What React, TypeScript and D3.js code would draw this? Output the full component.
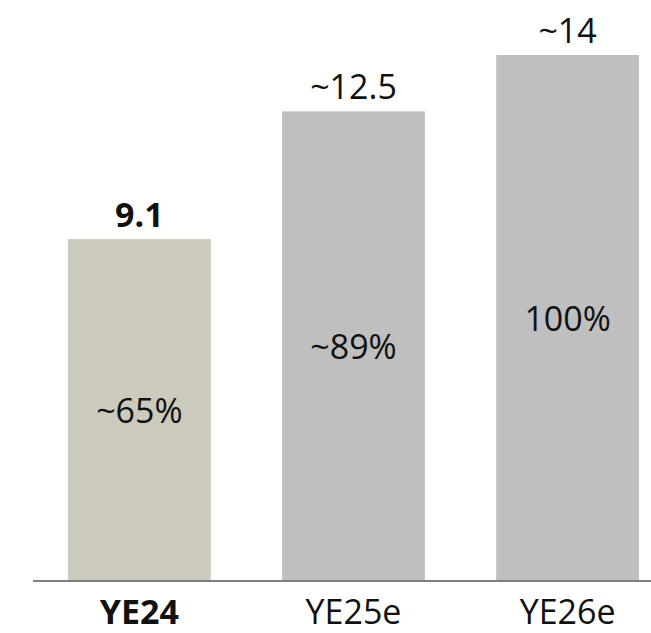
import React from "react";
import * as d3 from "d3";

const categories = ["YE24", "YE25e", "YE26e"];
const values = [9.1, 12.5, 14];
const valueLabels = ["9.1", "~12.5", "~14"];
const shareLabels = ["~65%", "~89%", "100%"];
const barColors = ["#cccabd", "#bfbfbf", "#bfbfbf"];
const boldIndex = 0;

const W = 651;
const H = 633;
const baseY = 581;

export default function App() {
  const x = d3.scaleBand<string>().domain(categories).range([68, 639]).paddingInner(0.333).paddingOuter(0);
  const y = d3.scaleLinear().domain([0, 14]).range([baseY, 55]);
  const font = "'Open Sans', 'Noto Sans', sans-serif";
  return (
    <svg
      width={W}
      height={H}
      style={{ position: "absolute", left: 0, top: 0, background: "#fff" }}
      fontFamily={font}
    >
      {categories.map((c, i) => {
        const bx = x(c)!;
        const bw = x.bandwidth();
        const top = y(values[i]);
        const cx = bx + bw / 2;
        return (
          <g key={c}>
            <rect x={bx} y={top} width={bw} height={baseY - top} fill={barColors[i]} />
            <text
              x={cx}
              y={top - 12}
              textAnchor="middle"
              fontSize={34}
              fontWeight={i === boldIndex ? 700 : 400}
              fill="#111"
            >
              {valueLabels[i]}
            </text>
            <text
              x={cx}
              y={(top + baseY) / 2}
              textAnchor="middle"
              dominantBaseline="central"
              fontSize={34}
              fill="#111"
            >
              {shareLabels[i]}
            </text>
            <text
              x={cx}
              y={624}
              textAnchor="middle"
              fontSize={34}
              fontWeight={i === boldIndex ? 700 : 400}
              fill="#111"
            >
              {c}
            </text>
          </g>
        );
      })}
      <line x1={33} x2={651} y1={baseY} y2={baseY} stroke="#808080" strokeWidth={2} />
    </svg>
  );
}
